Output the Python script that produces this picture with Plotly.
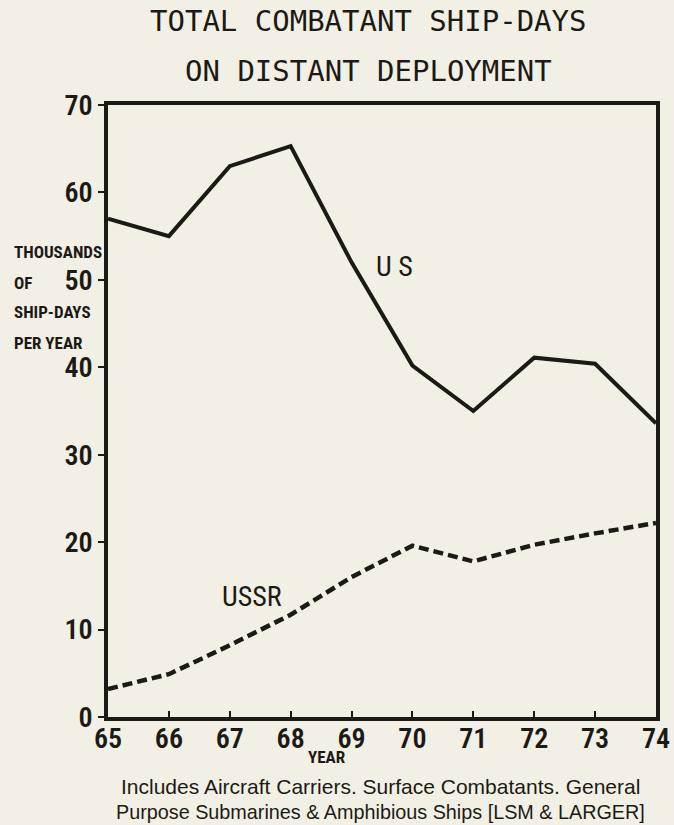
import plotly.graph_objects as go

years = [65, 66, 67, 68, 69, 70, 71, 72, 73, 74]
us_values = [57.0, 55.0, 63.0, 65.3, 52.0, 40.2, 35.0, 41.1, 40.4, 33.6]
ussr_values = [3.2, 4.9, 8.2, 11.7, 16.0, 19.6, 17.8, 19.7, 21.0, 22.2]
y_ticks = [0, 10, 20, 30, 40, 50, 60, 70]
x_tick_labels = ["65", "66", "67", "68", "69", "70", "71", "72", "73", "74"]
title_lines = ["TOTAL COMBATANT SHIP-DAYS", "ON DISTANT DEPLOYMENT"]
y_title_lines = ["THOUSANDS", "OF", "SHIP-DAYS", "PER YEAR"]
note_lines = ["Includes Aircraft Carriers. Surface Combatants. General",
              "Purpose Submarines & Amphibious Ships [LSM & LARGER]"]

INK = "#1c1a16"
PAPER = "#f2f0e5"
NARROW = "Liberation Sans Narrow, Roboto Condensed, DejaVu Sans Condensed, Arial Narrow, sans-serif"
MONO = "DejaVu Sans Mono, monospace"
NOTE = "Liberation Sans, Arial, sans-serif"

fig = go.Figure()
fig.add_trace(go.Scatter(x=years, y=us_values, mode="lines", name="US",
                         line=dict(color=INK, width=4), showlegend=False))
fig.add_trace(go.Scatter(x=years, y=ussr_values, mode="lines", name="USSR",
                         line=dict(color=INK, width=4.5, dash="10px,5px"), showlegend=False))

ann = []
for txt, yp in zip(title_lines, [1.137, 1.055]):
    ann.append(dict(text=txt, xref="paper", yref="paper", x=0.475, y=yp,
                    xanchor="center", yanchor="middle", showarrow=False,
                    font=dict(family=MONO, size=29, color=INK)))
for txt, yp in zip(y_title_lines, [0.760, 0.709, 0.662, 0.611]):
    ann.append(dict(text="<b>" + txt + "</b>", xref="paper", yref="paper", x=-0.176, y=yp,
                    xanchor="left", yanchor="middle", showarrow=False,
                    font=dict(family=NARROW, size=17, color=INK)))
for txt, yp, fs in zip(note_lines, [-0.113, -0.155], [21, 19.8]):
    ann.append(dict(text=txt, xref="paper", yref="paper", x=0.497, y=yp,
                    xanchor="center", yanchor="middle", showarrow=False,
                    font=dict(family=NOTE, size=fs, color=INK)))
ann.append(dict(text="<b>YEAR</b>", xref="paper", yref="paper", x=0.399, y=-0.066,
                xanchor="center", yanchor="middle", showarrow=False,
                font=dict(family=NARROW, size=17, color=INK)))
ann.append(dict(text="U S", x=69.71, y=51.5, xref="x", yref="y", showarrow=False,
                xanchor="center", yanchor="middle",
                font=dict(family=NARROW, size=28, color=INK)))
ann.append(dict(text="USSR", x=67.37, y=13.8, xref="x", yref="y", showarrow=False,
                xanchor="center", yanchor="middle",
                font=dict(family=NARROW, size=28, color=INK)))

fig.update_layout(
    width=682, height=825,
    margin=dict(l=108, r=16, t=105, b=108),
    paper_bgcolor=PAPER, plot_bgcolor=PAPER,
    annotations=ann,
    font=dict(family=NARROW, color=INK),
)
fig.update_xaxes(range=[65, 74], tickvals=years, ticktext=x_tick_labels,
                 ticks="inside", ticklen=6, tickwidth=2, tickcolor=INK,
                 showline=True, linewidth=3.5, linecolor=INK, mirror=True,
                 showgrid=False, zeroline=False, ticklabelstandoff=-6,
                 tickfont=dict(family=NARROW, size=28, color=INK, weight=600))
fig.update_yaxes(range=[0, 70], tickvals=y_ticks,
                 ticks="outside", ticklen=6, tickwidth=2, tickcolor=INK,
                 showline=True, linewidth=3.5, linecolor=INK, mirror=True,
                 showgrid=False, zeroline=False,
                 tickfont=dict(family=NARROW, size=28, color=INK, weight=600))

fig.write_html(
    "out.html",
    config={"displayModeBar": False},
    post_script=("document.documentElement.style.margin='0';"
                 "document.documentElement.style.overflow='hidden';"
                 "document.body.style.margin='0';"
                 "document.body.style.overflow='hidden';"
                 "document.body.style.background='" + PAPER + "';"),
)
